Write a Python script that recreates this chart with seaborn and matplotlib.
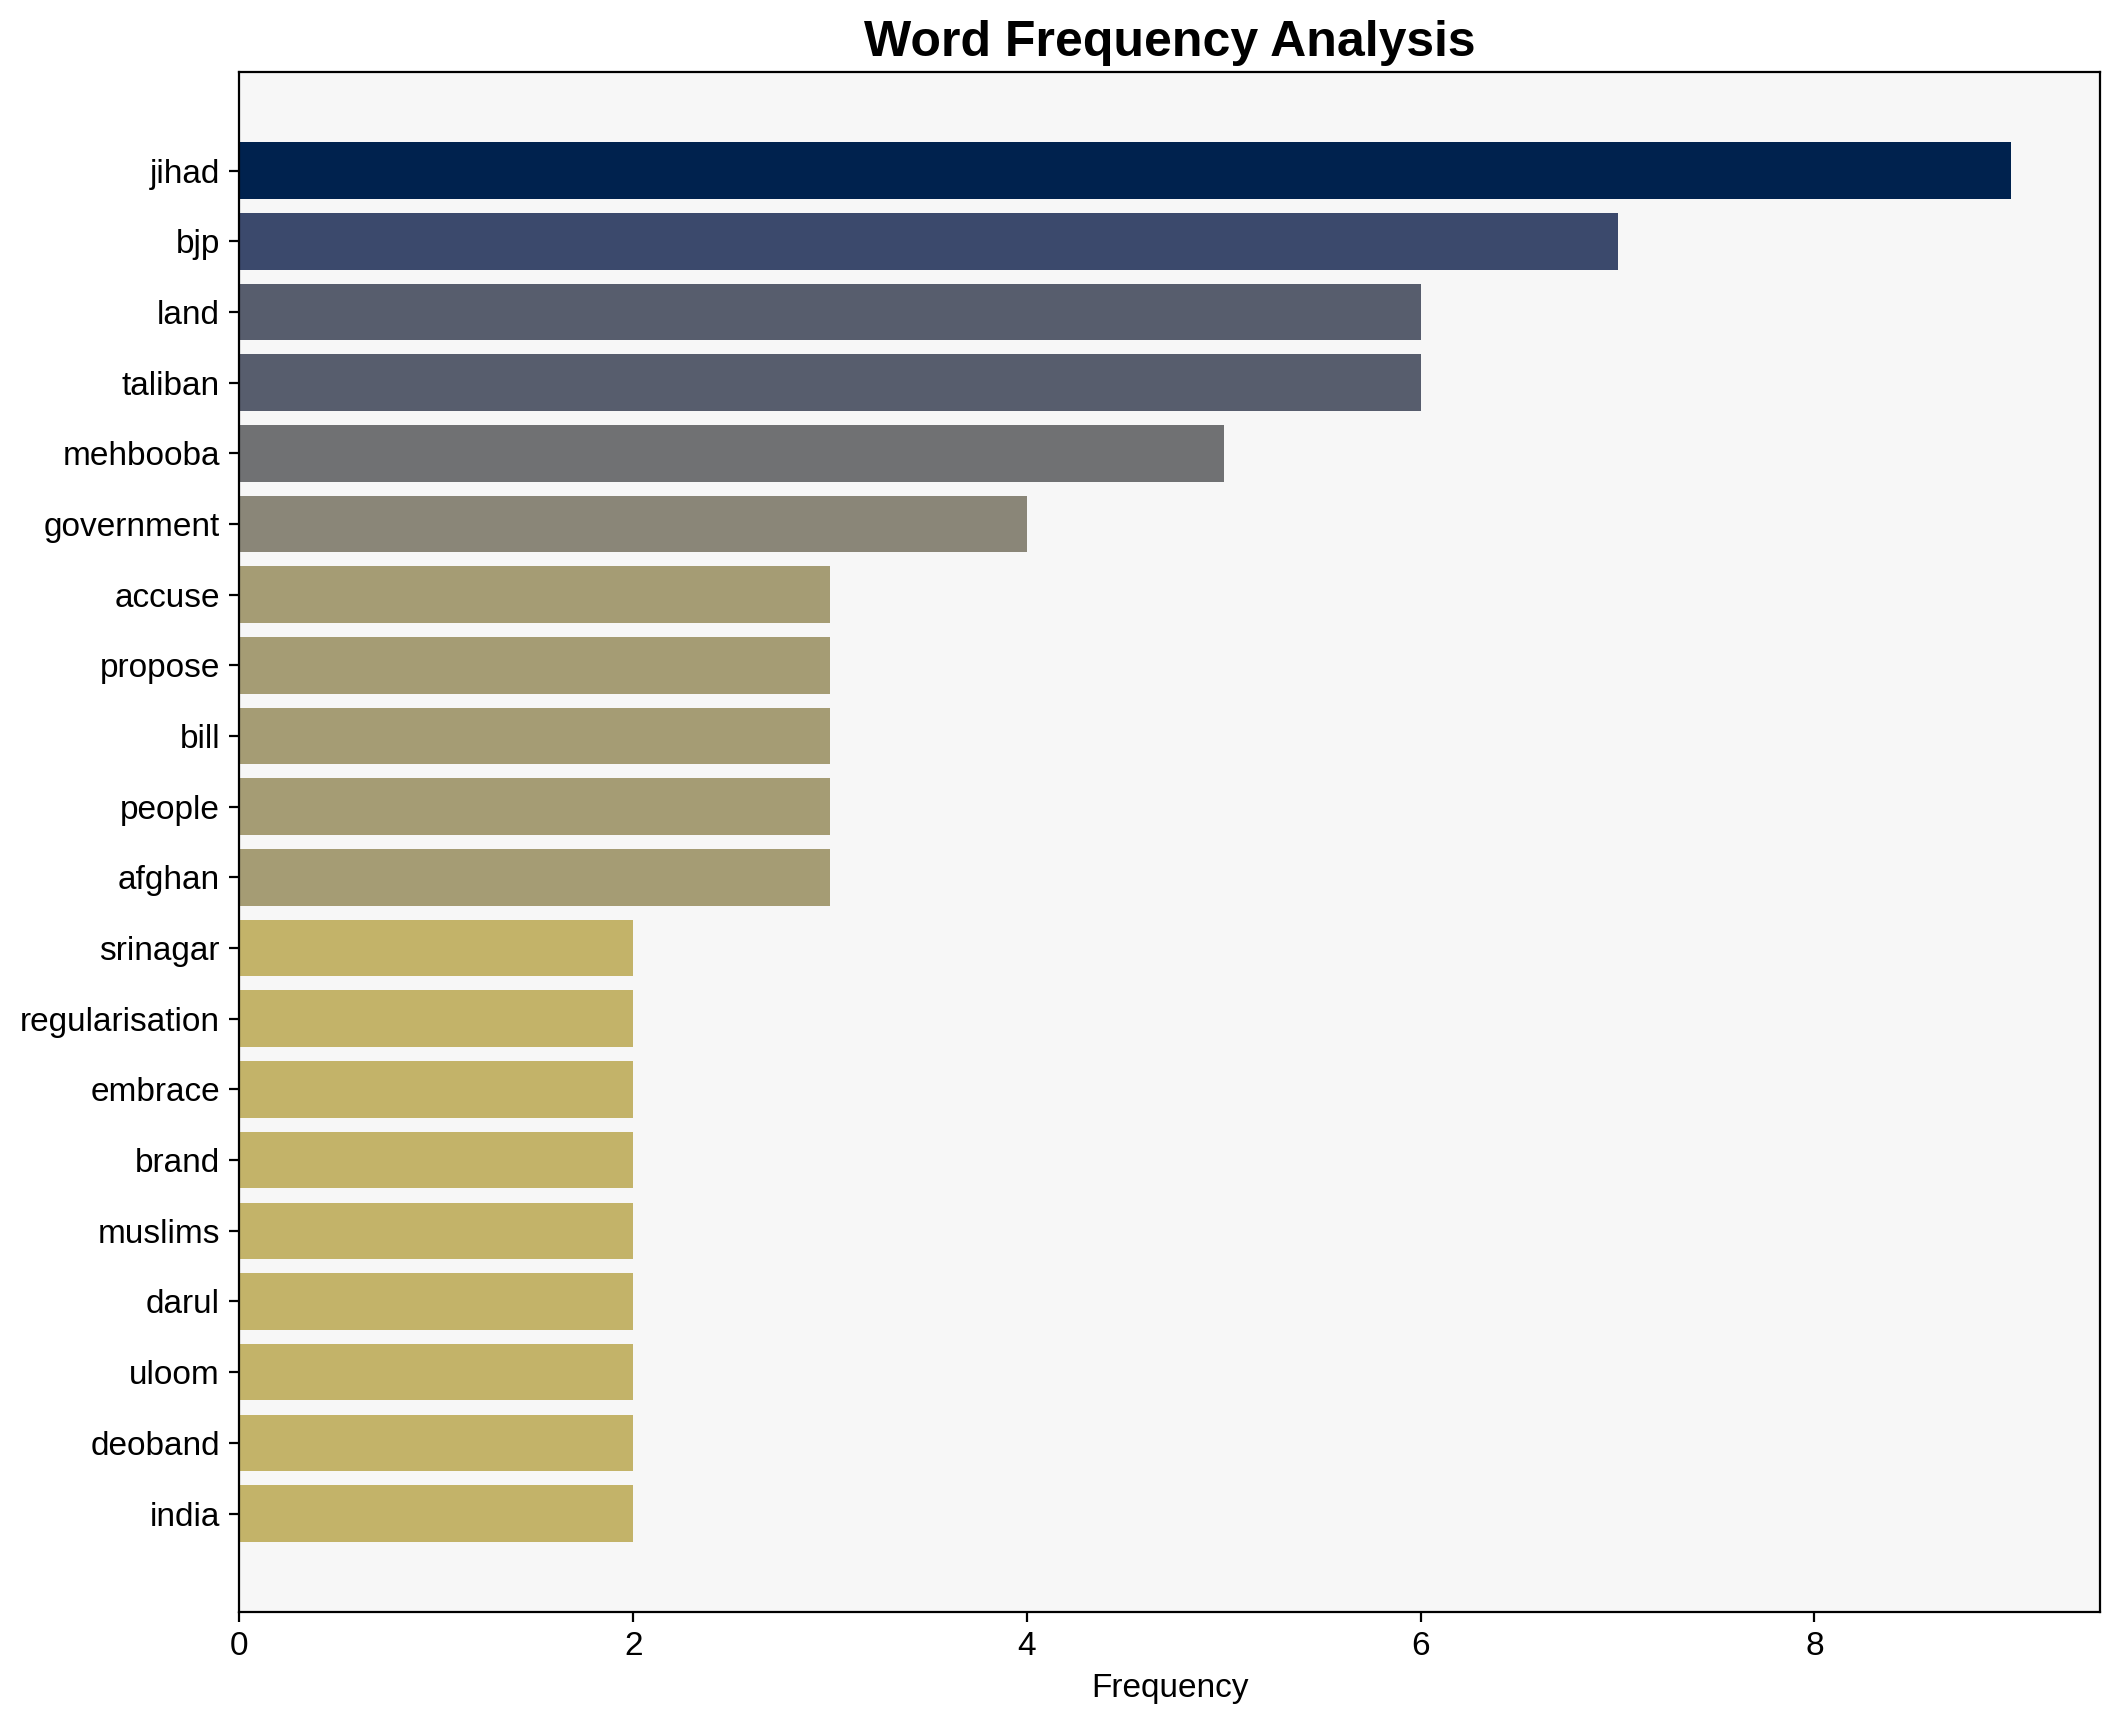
import matplotlib
matplotlib.use('Agg')
import matplotlib.pyplot as plt
import seaborn as sns
import pandas as pd

# Word counts
words = ['jihad', 'bjp', 'land', 'taliban', 'mehbooba', 'government', 'accuse',
         'propose', 'bill', 'people', 'afghan', 'srinagar', 'regularisation',
         'embrace', 'brand', 'muslims', 'darul', 'uloom', 'deoband', 'india']
counts = [9, 7, 6, 6, 5, 4, 3, 3, 3, 3, 3, 2, 2, 2, 2, 2, 2, 2, 2, 2]

df = pd.DataFrame({'word': words, 'Frequency': counts})

plt.rcParams['font.family'] = ['Liberation Sans', 'DejaVu Sans']

fig, ax = plt.subplots(figsize=(10.595, 8.61), dpi=200)
fig.subplots_adjust(left=0.113, right=0.991, top=0.958, bottom=0.064)
ax.set_facecolor('#f7f7f7')

sns.barplot(data=df, x='Frequency', y='word', hue='Frequency', palette='cividis_r',
            hue_norm=(0, max(counts)), legend=False, orient='h', ax=ax,
            width=0.8, saturation=1)

# barh-like padding around the categories
n = len(words)
pad = 0.05 * (n - 0.2)
ax.set_ylim(n - 1 + 0.4 + pad, -0.4 - pad)
ax.set_xlim(0, max(counts) * 1.05)

ax.set_title('Word Frequency Analysis', fontsize=18, fontweight='bold')
ax.set_xlabel('Frequency', fontsize=12)
ax.set_ylabel('')
ax.tick_params(labelsize=12)
for s in ax.spines.values():
    s.set_color('black')

plt.savefig('out.png', dpi=200)
